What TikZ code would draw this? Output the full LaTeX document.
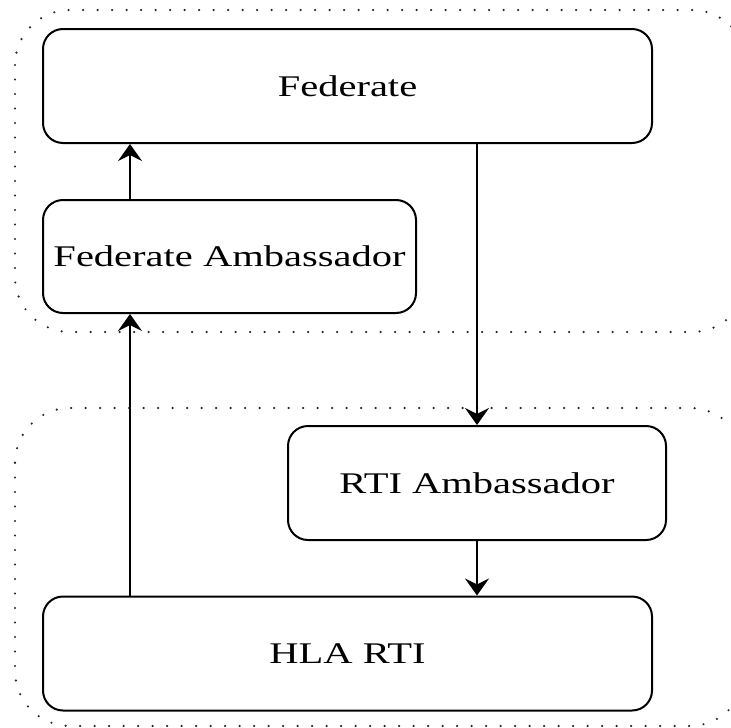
\documentclass[tikz,border=0pt]{standalone}
\usepackage{fontspec}
\setmainfont{Liberation Serif}
\usepackage{tikz}
\usetikzlibrary{arrows.meta, calc}

\tikzset{
    block/.style={draw, line width=2pt, rounded corners=20pt, fill=white,
        font=\fontsize{30}{36}\selectfont},
    group/.style={draw=black!85, line width=2.4pt, line cap=round,
        dash pattern=on 0pt off 14.5pt, rounded corners=55pt},
    link/.style={-{Stealth[length=17pt, width=24pt, inset=6pt]}, line width=2pt}
}
\newcommand{\wide}[1]{\scalebox{1.35}[1]{#1}}

\begin{document}
\begin{tikzpicture}[x=1pt, y=-1pt]
    % 1. Khung ảnh
    \useasboundingbox (0,0) rectangle (731,728);
    \clip (0,0) rectangle (731,728);

    % 2. Hai vùng nét chấm
    \draw[group] (15,10) rectangle (747,332);
    \draw[group] (15,408) rectangle (745,726);

    % 3. Các khối
    \node[block, minimum width=609pt, minimum height=114pt] (federate) at (347.5,86) {\wide{Federate}};
    \node[block, minimum width=373pt, minimum height=113pt] (fedamb) at (229.5,256.5) {\wide{Federate Ambassador}};
    \node[block, minimum width=378pt, minimum height=114pt] (rtiamb) at (477,483) {\wide{RTI Ambassador}};
    \node[block, minimum width=609pt, minimum height=114pt] (hla) at (347.5,653.5) {\wide{HLA RTI}};
    \coordinate (up) at (130,0);

    % 4. Mũi tên
    \draw[link] (fedamb.north -| up) -- (federate.south -| up);
    \draw[link] (hla.north -| up) -- (fedamb.south -| up);
    \draw[link] (federate.south -| rtiamb.north) -- (rtiamb.north);
    \draw[link] (rtiamb.south) -- (rtiamb.south |- hla.north);
\end{tikzpicture}
\end{document}
